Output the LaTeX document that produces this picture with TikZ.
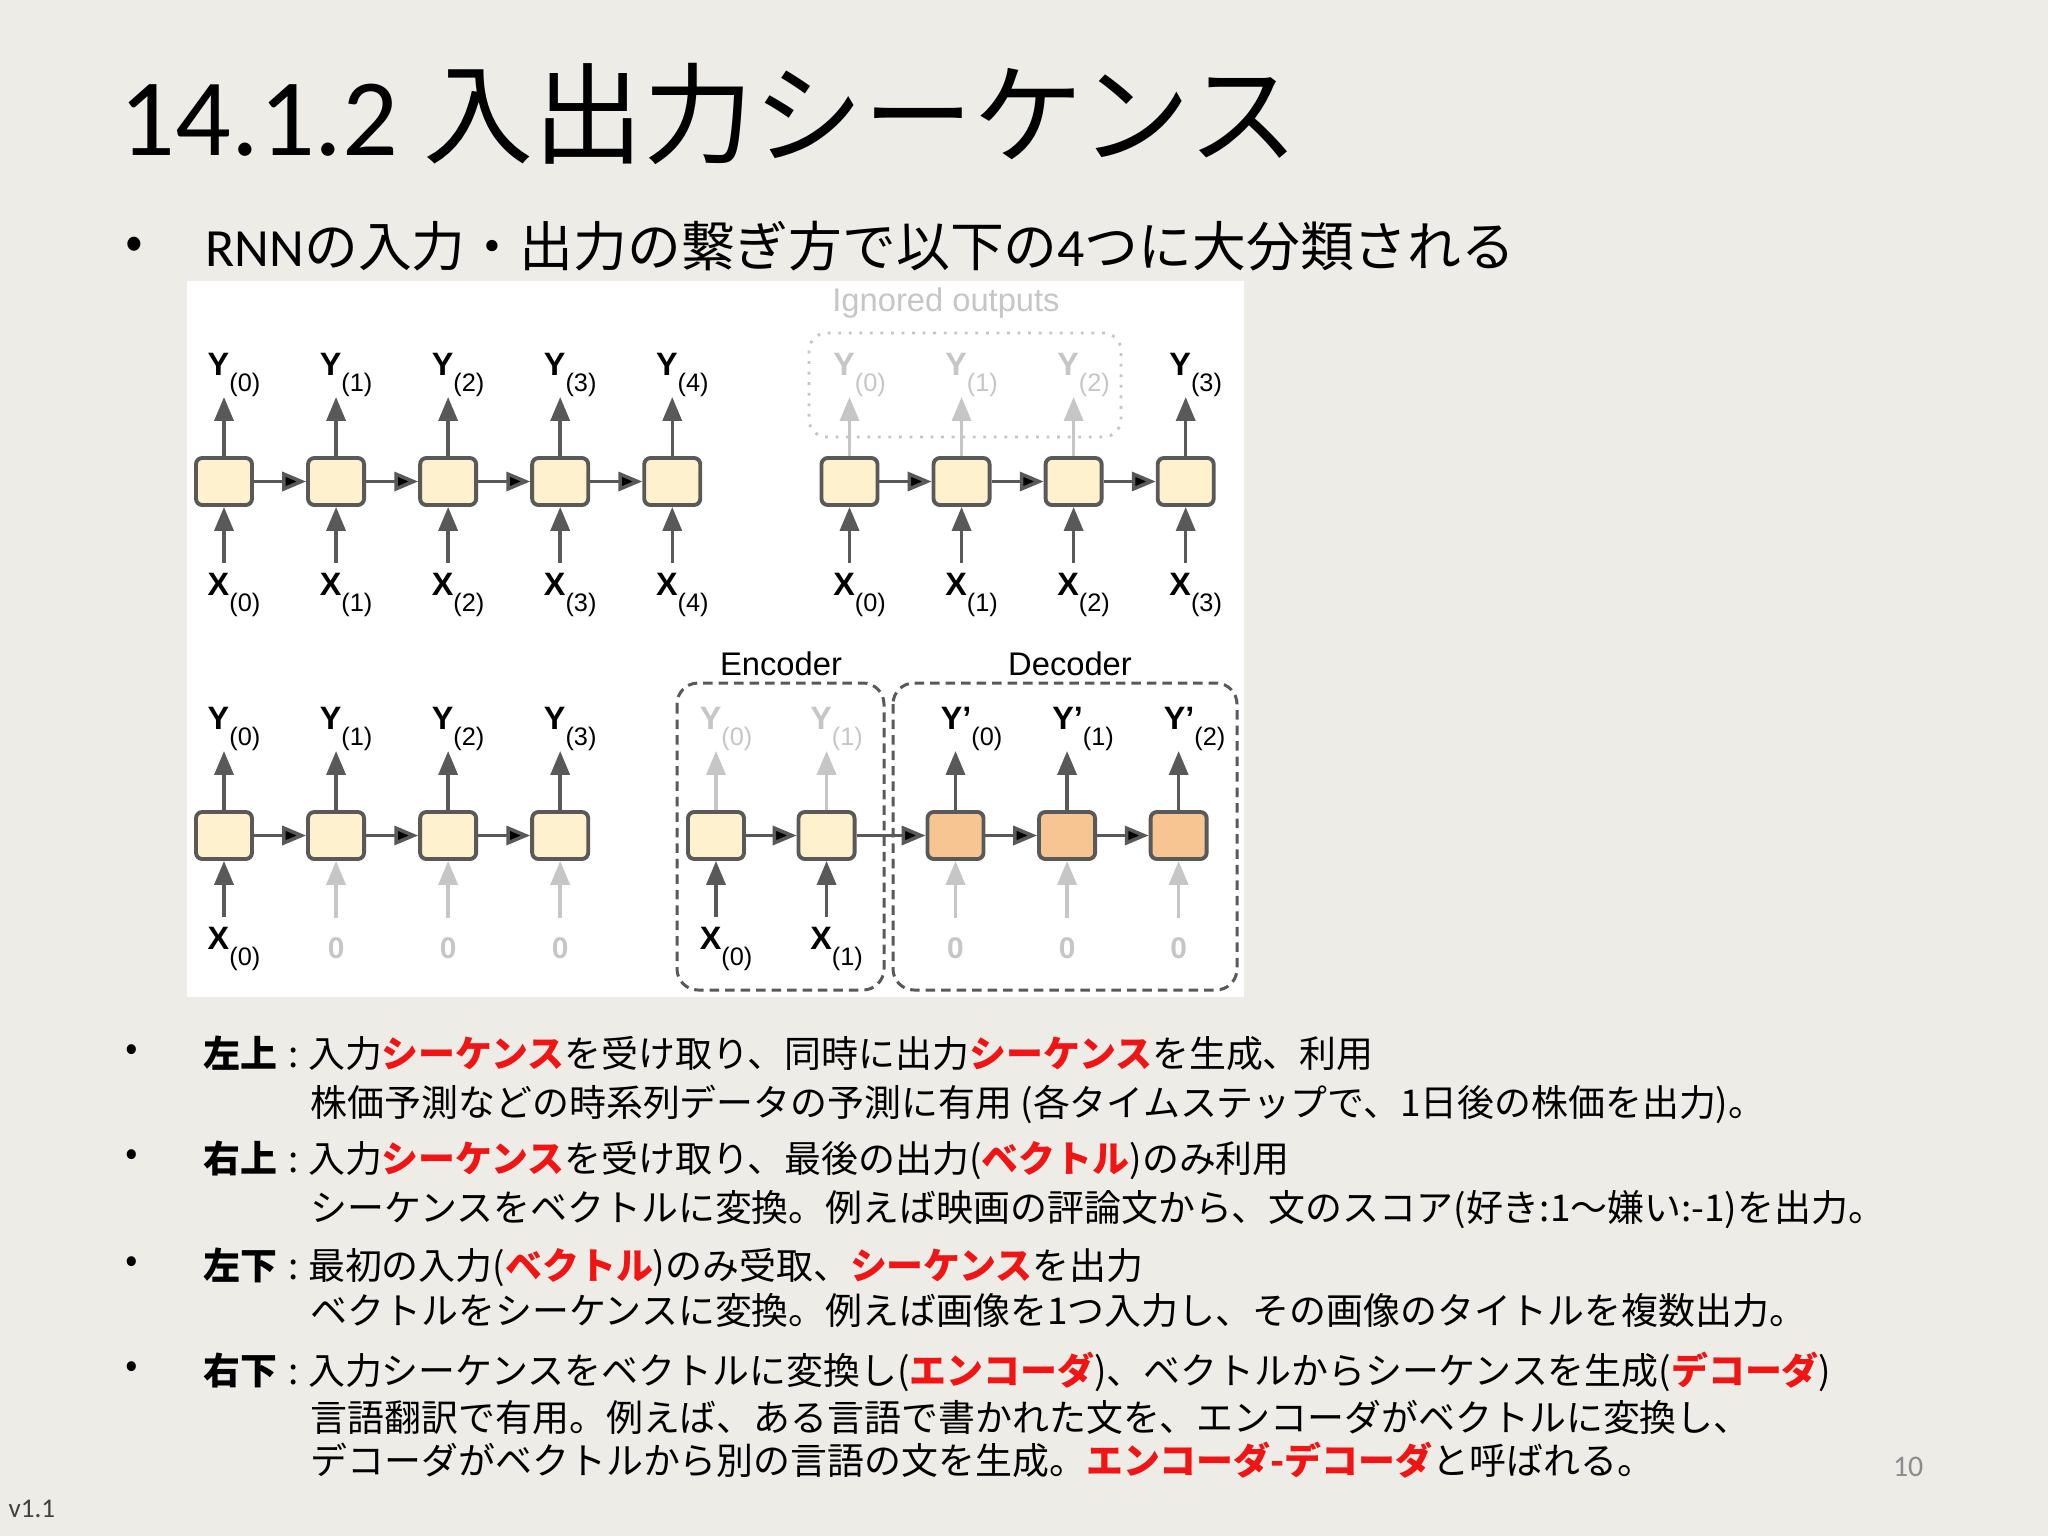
\documentclass[tikz,border=0pt]{standalone}
\usepackage{fontspec}
\setmainfont{Noto Sans CJK JP}
\newfontfamily\latinfont{Carlito}
\newfontfamily\figfont{Liberation Sans}
\usetikzlibrary{positioning,arrows.meta}

\definecolor{slidebg}{HTML}{EEECE6}
\definecolor{cellfill}{HTML}{FDF2CD}
\definecolor{decfill}{HTML}{F6C592}
\definecolor{celldraw}{HTML}{595959}
\definecolor{faded}{HTML}{C6C6C6}
\definecolor{hilite}{HTML}{F01414}
\definecolor{pagenum}{HTML}{8C8C8C}

\newcommand{\tsub}[1]{\raisebox{-4.5pt}{\fontsize{7.2}{8}\selectfont(#1)}}
\newcommand{\yv}[1]{\textbf{Y}\tsub{#1}}
\newcommand{\ypv}[1]{\textbf{Y’}\tsub{#1}}
\newcommand{\xv}[1]{\textbf{X}\tsub{#1}}
\newcommand{\redw}[1]{\textcolor{hilite}{\textbf{#1}}}
\newcommand{\lead}[1]{\textbf{#1}\hspace{0.3em}:\hspace{0.25em}}

\tikzset{
  cell/.style={draw=celldraw, fill=cellfill, line width=1.1pt, rounded corners=1.8pt,
    minimum width=0.56cm, minimum height=0.47cm, inner sep=0pt},
  deccell/.style={cell, fill=decfill},
  lbl/.style={inner sep=0pt, font=\figfont\fontsize{9.2}{10}\selectfont},
  zlbl/.style={inner sep=0pt, text=faded, font=\figfont\bfseries\fontsize{8.5}{9}\selectfont},
  capt/.style={inner sep=0pt, anchor=base, font=\figfont\fontsize{9.3}{10}\selectfont},
  arr/.style={->, draw=celldraw, line width=1pt},
  farr/.style={->, draw=faded, line width=1pt},
  jp/.style={anchor=base west, inner sep=0pt, font=\fontsize{10.5}{12}\selectfont},
  bul/.style={inner sep=0pt, font=\fontsize{10.5}{12}\selectfont},
}

\begin{document}
\begin{tikzpicture}[x=0.01cm, y=-0.01cm, >={Triangle[length=6.8pt,width=5.4pt]}, node distance=1.12cm]
  \useasboundingbox[fill=slidebg] (0,0) rectangle (2048,1536);

  % heading
  \node[anchor=base west, inner sep=0pt, font=\fontsize{31.3}{37}\selectfont] (title) at (119,155) {{\latinfont 14.1.2} 入出力シーケンス};
  \node[bul, font=\fontsize{14.8}{16}\selectfont] (dot0) at (134,248) {•};
  \node[anchor=base west, inner sep=0pt, font=\fontsize{15.3}{17}\selectfont] (intro) at (205,266) {{\latinfont RNN}の入力・出力の繋ぎ方で以下の{\latinfont 4}つに大分類される};

  % figure panel
  \fill[white] (187,281) rectangle (1244,997);

  % top left: seq to seq
  \node[cell] (a0) at (224,481.5) {};
  \node[cell] (a1) [right of=a0] {};
  \node[cell] (a2) [right of=a1] {};
  \node[cell] (a3) [right of=a2] {};
  \node[cell] (a4) [right of=a3] {};
  \foreach \i in {0,...,4} {
    \node[lbl, above=0.59cm of a\i, xshift=0.1cm] (ay\i) {\yv{\i}};
    \node[lbl, below=0.66cm of a\i, xshift=0.1cm] (ax\i) {\xv{\i}};
    \draw[arr] (a\i.north) -- (a\i.north |- ay\i.south);
    \draw[arr, shorten <=2.8pt] (a\i.south |- ax\i.north) -- (a\i.south);
  }
  \path[arr] (a0) edge (a1) (a1) edge (a2) (a2) edge (a3) (a3) edge (a4);

  % top right: seq to vector
  \draw[faded, line width=0.8pt, dash pattern=on 0.8pt off 2.2pt, rounded corners=5pt] (809,333) rectangle (1121,437);
  \node[capt, text=faded] (ign) at (946,311) {Ignored outputs};
  \node[cell] (b0) at (849.5,481.5) {};
  \node[cell] (b1) [right of=b0] {};
  \node[cell] (b2) [right of=b1] {};
  \node[cell] (b3) [right of=b2] {};
  \foreach \i in {0,1,2} {
    \node[lbl, text=faded, above=0.59cm of b\i, xshift=0.1cm] (by\i) {\yv{\i}};
    \draw[farr] (b\i.north) -- (b\i.north |- by\i.south);
  }
  \node[lbl, above=0.59cm of b3, xshift=0.1cm] (by3) {\yv{3}};
  \draw[arr] (b3.north) -- (b3.north |- by3.south);
  \foreach \i in {0,...,3} {
    \node[lbl, below=0.66cm of b\i, xshift=0.1cm] (bx\i) {\xv{\i}};
    \draw[arr, shorten <=2.8pt] (b\i.south |- bx\i.north) -- (b\i.south);
  }
  \path[arr] (b0) edge (b1) (b1) edge (b2) (b2) edge (b3);

  % bottom left: vector to seq
  \node[cell] (c0) at (224,835.5) {};
  \node[cell] (c1) [right of=c0] {};
  \node[cell] (c2) [right of=c1] {};
  \node[cell] (c3) [right of=c2] {};
  \foreach \i in {0,...,3} {
    \node[lbl, above=0.59cm of c\i, xshift=0.1cm] (cy\i) {\yv{\i}};
    \draw[arr] (c\i.north) -- (c\i.north |- cy\i.south);
  }
  \node[lbl, below=0.66cm of c0, xshift=0.1cm] (cx0) {\xv{0}};
  \draw[arr, shorten <=2.8pt] (c0.south |- cx0.north) -- (c0.south);
  \foreach \i in {1,2,3} {
    \node[zlbl, below=0.76cm of c\i] (cz\i) {0};
    \draw[farr, shorten <=5.4pt] (c\i.south |- cz\i.north) -- (c\i.south);
  }
  \path[arr] (c0) edge (c1) (c1) edge (c2) (c2) edge (c3);

  % bottom right: encoder - decoder
  \draw[celldraw, line width=0.85pt, dash pattern=on 2.7pt off 1.7pt, rounded corners=6pt] (677,683) rectangle (884,990);
  \draw[celldraw, line width=0.85pt, dash pattern=on 2.7pt off 1.7pt, rounded corners=6pt] (893,683) rectangle (1237,990);
  \node[capt] (enc) at (781,675) {Encoder};
  \node[capt] (dec) at (1070,675) {Decoder};
  \node[cell] (e0) at (716,835.5) {};
  \node[cell] (e1) [right of=e0, node distance=1.105cm] {};
  \node[deccell] (d0) at (955.5,835.5) {};
  \node[deccell] (d1) [right of=d0, node distance=1.115cm] {};
  \node[deccell] (d2) [right of=d1, node distance=1.115cm] {};
  \foreach \i in {0,1} {
    \node[lbl, text=faded, above=0.59cm of e\i, xshift=0.1cm] (ey\i) {\yv{\i}};
    \draw[farr] (e\i.north) -- (e\i.north |- ey\i.south);
    \node[lbl, below=0.66cm of e\i, xshift=0.1cm] (ex\i) {\xv{\i}};
    \draw[arr, shorten <=2.8pt] (e\i.south |- ex\i.north) -- (e\i.south);
  }
  \foreach \i in {0,1,2} {
    \node[lbl, above=0.59cm of d\i, xshift=0.16cm] (dy\i) {\ypv{\i}};
    \draw[arr] (d\i.north) -- (d\i.north |- dy\i.south);
    \node[zlbl, below=0.76cm of d\i] (dz\i) {0};
    \draw[farr, shorten <=5.4pt] (d\i.south |- dz\i.north) -- (d\i.south);
  }
  \path[arr] (e0) edge (e1) (e1) edge (d0) (d0) edge (d1) (d1) edge (d2);

  % notes
  \node[bul] (dot1) at (132,1053) {•};
  \node[jp] (n1) at (203,1067) {\lead{左上}入力\redw{シーケンス}を受け取り、同時に出力\redw{シーケンス}を生成、利用};
  \node[jp] (n2) at (310,1116) {株価予測などの時系列データの予測に有用 (各タイムステップで、1日後の株価を出力)。};
  \node[bul] (dot2) at (132,1158) {•};
  \node[jp] (n3) at (203,1172) {\lead{右上}入力\redw{シーケンス}を受け取り、最後の出力(\redw{ベクトル})のみ利用};
  \node[jp] (n4) at (310,1221) {シーケンスをベクトルに変換。例えば映画の評論文から、文のスコア(好き:1～嫌い:-1)を出力。};
  \node[bul] (dot3) at (132,1265) {•};
  \node[jp] (n5) at (203,1279) {\lead{左下}最初の入力(\redw{ベクトル})のみ受取、\redw{シーケンス}を出力};
  \node[jp] (n6) at (310,1324) {ベクトルをシーケンスに変換。例えば画像を1つ入力し、その画像のタイトルを複数出力。};
  \node[bul] (dot4) at (132,1370) {•};
  \node[jp] (n7) at (203,1384) {\lead{右下}入力シーケンスをベクトルに変換し(\redw{エンコーダ})、ベクトルからシーケンスを生成(\redw{デコーダ})};
  \node[jp] (n8) at (310,1431) {言語翻訳で有用。例えば、ある言語で書かれた文を、エンコーダがベクトルに変換し、};
  \node[jp] (n9) at (310,1474) {デコーダがベクトルから別の言語の文を生成。\redw{エンコーダ-デコーダ}と呼ばれる。};

  % footer
  \node[anchor=base east, inner sep=0pt, text=pagenum, font=\latinfont\fontsize{8.5}{10}\selectfont] (page) at (1924,1476) {10};
  \node[anchor=base west, inner sep=0pt, text=black!75, font=\latinfont\fontsize{7.7}{9}\selectfont] (ver) at (8,1517) {v1.1};
\end{tikzpicture}
\end{document}
